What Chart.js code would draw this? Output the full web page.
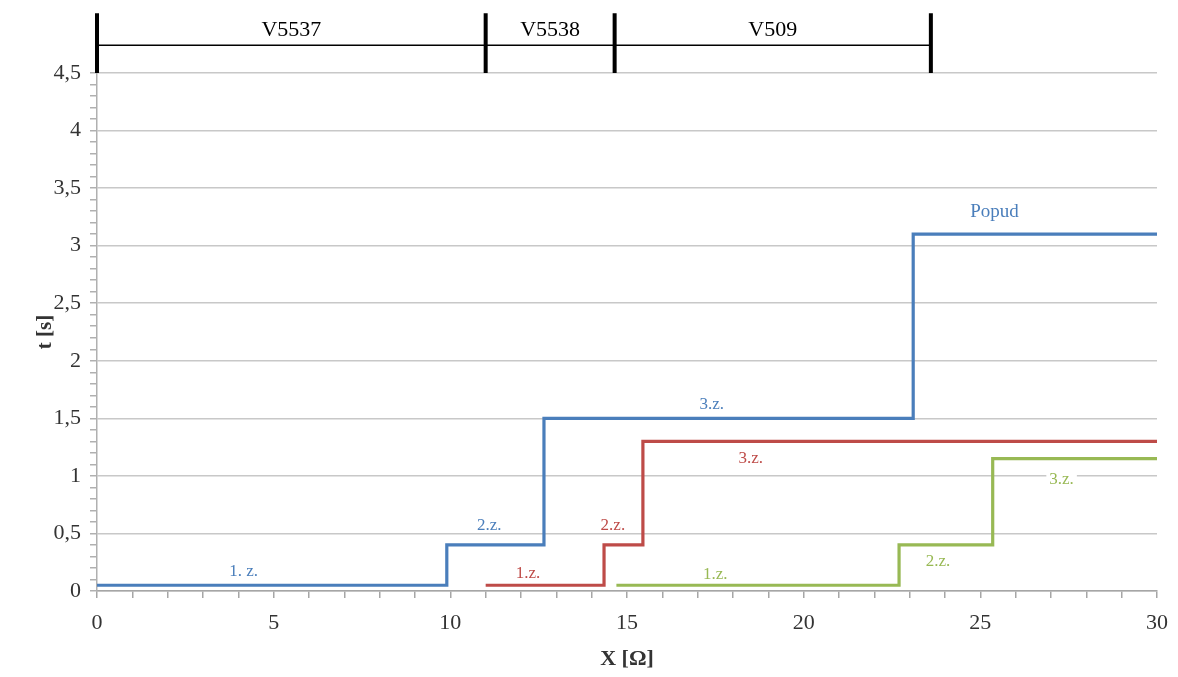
<!DOCTYPE html>
<html>
<head>
<meta charset="utf-8">
<script src="https://cdn.jsdelivr.net/npm/chart.js@4/dist/chart.umd.min.js"></script>
<style>
  html, body { margin: 0; padding: 0; background: #fff; }
  #wrap { width: 1178px; height: 677px; }
</style>
</head>
<body>
<div id="wrap"><canvas id="chart" width="1178" height="677"></canvas></div>
<script>
// step breakpoints (X [Ω]) and trip times (t [s]) per relay
const v5537X = [0, 9.9, 12.65, 23.1, 30];
const v5537T = [0.05, 0.4, 1.5, 3.1, 3.1];
const v5538X = [11, 14.35, 15.45, 30];
const v5538T = [0.05, 0.4, 1.3, 1.3];
const v509X = [14.7, 22.7, 25.35, 30];
const v509T = [0.05, 0.4, 1.15, 1.15];

// section brackets at the top
const sectionNames = ['V5537', 'V5538', 'V509'];
const sectionEdges = [0, 11, 14.65, 23.6];

// zone labels
const labelText = ['1. z.', '2.z.', '3.z.', 'Popud', '1.z.', '2.z.', '3.z.', '1.z.', '2.z.', '3.z.'];
const labelX = [4.15, 11.1, 17.4, 25.4, 12.2, 14.6, 18.5, 17.5, 23.8, 27.3];
const labelT = [0.17, 0.57, 1.62, 3.29, 0.15, 0.57, 1.15, 0.14, 0.26, 0.97];
const labelSeries = [0, 0, 0, 0, 1, 1, 1, 2, 2, 2];

const xTicks = [0, 5, 10, 15, 20, 25, 30];
const yTicks = [0, 0.5, 1, 1.5, 2, 2.5, 3, 3.5, 4, 4.5];

const colors = ['#4a7ebb', '#be4b48', '#98b954'];
const serif = '"Liberation Serif", "DejaVu Serif", serif';

const isMajorY = (v) => yTicks.some((t) => Math.abs(t - v) < 1e-6);

function steps(xs, ts) {
  return xs.map((x, i) => ({ x, y: ts[i] }));
}

const bracketLine = [
  { x: sectionEdges[0], y: 4.74 },
  { x: sectionEdges[sectionEdges.length - 1], y: 4.74 },
];
const bracketBars = sectionEdges.flatMap((e) => [
  { x: e, y: 4.5 },
  { x: e, y: 5.02 },
  { x: e, y: null },
]);

const labelsPlugin = {
  id: 'zoneLabels',
  afterDatasetsDraw(chart) {
    const { ctx, scales } = chart;
    const { x, y } = scales;
    ctx.save();
    ctx.textAlign = 'center';
    ctx.textBaseline = 'middle';

    labelText.forEach((txt, i) => {
      const px = x.getPixelForValue(labelX[i]);
      const py = y.getPixelForValue(labelT[i]);
      ctx.font = (txt === 'Popud' ? '19px ' : '17px ') + serif;
      const w = ctx.measureText(txt).width;
      ctx.fillStyle = '#fff';
      ctx.fillRect(px - w / 2 - 3, py - 7, w + 6, 14);
      ctx.fillStyle = colors[labelSeries[i]];
      ctx.fillText(txt, px, py);
    });

    ctx.font = '22px ' + serif;
    ctx.fillStyle = '#000';
    sectionNames.forEach((name, i) => {
      const mid = (sectionEdges[i] + sectionEdges[i + 1]) / 2;
      ctx.fillText(name, x.getPixelForValue(mid), y.getPixelForValue(4.87));
    });
    ctx.restore();
  },
};

const stepDataset = (data, color) => ({
  data,
  borderColor: color,
  borderWidth: 3.2,
  pointRadius: 0,
  stepped: true,
  fill: false,
});

new Chart(document.getElementById('chart'), {
  type: 'line',
  data: {
    datasets: [
      stepDataset(steps(v5537X, v5537T), colors[0]),
      stepDataset(steps(v5538X, v5538T), colors[1]),
      stepDataset(steps(v509X, v509T), colors[2]),
      {
        data: bracketLine,
        borderColor: '#000',
        borderWidth: 1.5,
        pointRadius: 0,
        clip: false,
      },
      {
        data: bracketBars,
        borderColor: '#000',
        borderWidth: 4,
        pointRadius: 0,
        spanGaps: false,
        clip: false,
      },
    ],
  },
  options: {
    responsive: false,
    animation: false,
    layout: { padding: { top: 73, right: 21, left: 0, bottom: 0 } },
    plugins: {
      legend: { display: false },
      tooltip: { enabled: false },
    },
    scales: {
      x: {
        type: 'linear',
        min: 0,
        max: 30,
        afterFit: (s) => { s.height = 86; s.paddingRight = 0; s.paddingLeft = 0; },
        grid: { drawOnChartArea: false, tickColor: '#a6a6a6', tickLength: 7, lineWidth: 1.5 },
        border: { color: '#a6a6a6', width: 1.5 },
        ticks: {
          stepSize: 1,
          autoSkip: false,
          maxRotation: 0,
          padding: 12,
          color: '#333',
          font: { family: serif, size: 22 },
          callback: (v) => (xTicks.includes(v) ? v : ''),
        },
        title: {
          display: true,
          text: 'X [Ω]',
          color: '#333',
          font: { family: serif, size: 22, weight: 'bold' },
          padding: { top: 0, bottom: 4 },
        },
      },
      y: {
        min: 0,
        max: 4.5,
        afterFit: (s) => { s.width = 97; },
        grid: {
          color: (c) => (isMajorY(c.tick.value) ? '#c8c8c8' : 'rgba(0,0,0,0)'),
          tickColor: '#b0b0b0',
          tickLength: 7,
          lineWidth: 1.5,
        },
        border: { color: '#b0b0b0', width: 1.5 },
        ticks: {
          stepSize: 0.1,
          autoSkip: false,
          padding: 9,
          color: '#333',
          font: { family: serif, size: 22 },
          callback: (v) => (isMajorY(v) ? String(Math.round(v * 10) / 10).replace('.', ',') : ''),
        },
        title: {
          display: true,
          text: 't [s]',
          color: '#333',
          font: { family: serif, size: 21, weight: 'bold' },
          padding: { top: 33, bottom: 0 },
        },
      },
    },
  },
  plugins: [labelsPlugin],
});
</script>
</body>
</html>
